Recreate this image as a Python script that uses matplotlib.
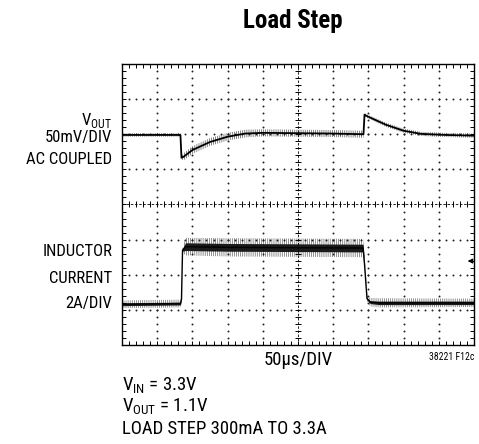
#Load step scope capture (Vout and inductor current)
import numpy as np
import matplotlib
matplotlib.use('Agg')
import matplotlib.pyplot as plt

plt.rcParams['font.family'] = ['Roboto Condensed', 'Roboto', 'DejaVu Sans']
plt.rcParams['mathtext.fontset'] = 'custom'
plt.rcParams['mathtext.rm'] = 'Roboto Condensed'
plt.rcParams['hatch.linewidth'] = 0.5

#Vout trace, in scope divisions (x: 0..10, y: 0..8)
vout_t = [0, 1.66, 1.69, 1.75, 2.0, 2.5, 3.0, 3.5, 4.0, 5.0, 6.0, 6.86, 6.89, 6.95, 7.5, 8.0, 8.5, 9.2, 10]
vout_v = [5.98, 5.98, 5.33, 5.36, 5.55, 5.78, 5.93, 6.02, 6.04, 6.03, 6.02, 6.0, 6.56, 6.52, 6.27, 6.1, 6.01, 5.98, 5.96]
vout_w = [0.05, 0.05, 0.05, 0.1, 0.11, 0.11, 0.11, 0.11, 0.1, 0.1, 0.1, 0.1, 0.04, 0.05, 0.06, 0.06, 0.06, 0.06, 0.06]

#Inductor current trace
il_t = [0, 1.66, 1.69, 1.72, 1.8, 3.0, 5.0, 6.85, 6.89, 6.96, 7.05, 7.3, 10]
il_v = [1.16, 1.18, 1.3, 2.7, 2.8, 2.78, 2.77, 2.76, 2.3, 1.32, 1.22, 1.2, 1.2]
il_w = [0.11, 0.11, 0.03, 0.05, 0.25, 0.26, 0.26, 0.26, 0.03, 0.07, 0.12, 0.13, 0.12]
il_core = [0.04, 0.04, 0.02, 0.03, 0.11, 0.11, 0.11, 0.11, 0.02, 0.03, 0.04, 0.05, 0.05]

ndiv_x = 10
ndiv_y = 8

fig = plt.figure(figsize=(4.79, 4.44), dpi=100)
ax = fig.add_axes([122/479, 1-345/444, 352/479, 281/444])
ax.set_xlim(0, ndiv_x)
ax.set_ylim(0, ndiv_y)

#graticule dots
sub = np.arange(0, ndiv_x + 0.01, 0.2)
subv = np.arange(0, ndiv_y + 0.01, 0.2)
for k in range(1, ndiv_x):
    if k != 5:
        ax.plot(np.full(len(subv), k), subv, ls='none', marker='o', ms=1.4, color='#222222', mew=0)
for k in range(1, ndiv_y):
    if k != 4:
        ax.plot(sub, np.full(len(sub), k), ls='none', marker='o', ms=1.4, color='#222222', mew=0)

#center cross with small ticks
ax.plot([0, ndiv_x], [4, 4], color='k', lw=0.6, ls=(0, (3, 2)))
ax.plot([5, 5], [0, ndiv_y], color='k', lw=0.6, ls=(0, (3, 2)))
ax.plot(sub, np.full(len(sub), 4), ls='none', marker='|', ms=4, mew=0.7, color='k')
ax.plot(np.full(len(subv), 5), subv, ls='none', marker='_', ms=4, mew=0.7, color='k')

#traces (noise shown as a hatched envelope)
t = np.array(vout_t); v = np.array(vout_v); w = np.array(vout_w)
ax.fill_between(t, v - w, v + w, facecolor='none', edgecolor='#555555', hatch='||||||||', lw=0)
ax.plot(t, v, color='k', lw=1.3)

t = np.array(il_t); v = np.array(il_v)
ax.fill_between(t, v - np.array(il_w), v + np.array(il_w), facecolor='none',
                edgecolor='#666666', hatch='||||||||', lw=0)
ax.fill_between(t, v - np.array(il_core), v + np.array(il_core), color='#1a1a1a', lw=0)
ax.plot(t, v, color='k', lw=1.0)

#ground marker arrow at right edge
ax.annotate('', xy=(9.74, 2.39), xytext=(10, 2.39),
            arrowprops=dict(arrowstyle='-|>', color='k', lw=0.8, mutation_scale=7))

ax.set_xticks(np.arange(0, ndiv_x + 1, 1))
ax.set_yticks(np.arange(0, ndiv_y + 1, 1))
ax.set_xticks(sub, minor=True)
ax.set_yticks(subv, minor=True)
ax.tick_params(which='both', direction='in', top=True, right=True,
               labelbottom=False, labelleft=False, length=3, width=0.7)
for s in ax.spines.values():
    s.set_linewidth(1.0)

#text
fig.text(293/479, 1-21/444, 'Load Step', ha='center', va='center', fontsize=18, fontweight='bold')
lab = dict(ha='right', va='center', fontsize=12)
fig.text(112/479, 1-120/444, r'V$_{\mathrm{OUT}}$', **lab)
fig.text(112/479, 1-137/444, '50mV/DIV', **lab)
fig.text(112/479, 1-159/444, 'AC COUPLED', **lab)
fig.text(112/479, 1-252/444, 'INDUCTOR', **lab)
fig.text(112/479, 1-278/444, 'CURRENT', **lab)
fig.text(112/479, 1-303/444, '2A/DIV', **lab)

fig.text(298/479, 1-360/444, '50\u03bcs/DIV', ha='center', va='center', fontsize=13.5)
fig.text(474/479, 1-357/444, '38221 F12c', ha='right', va='center', fontsize=7)
fig.text(122/479, 1-386/444, r'V$_{\mathrm{IN}}$ = 3.3V', ha='left', va='center', fontsize=13.5)
fig.text(122/479, 1-407/444, r'V$_{\mathrm{OUT}}$ = 1.1V', ha='left', va='center', fontsize=13.5)
fig.text(122/479, 1-429/444, 'LOAD STEP 300mA TO 3.3A', ha='left', va='center', fontsize=13.5)

plt.savefig('out.png', dpi=100)
